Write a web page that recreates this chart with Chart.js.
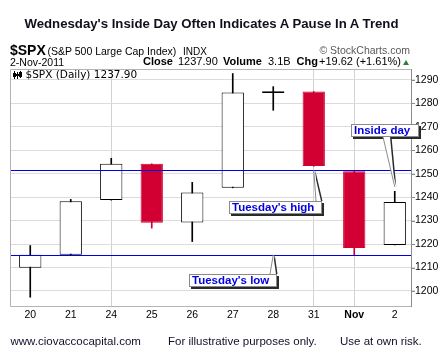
<!DOCTYPE html>
<html><head><meta charset="utf-8">
<script src="https://cdn.jsdelivr.net/npm/chart.js@4/dist/chart.umd.min.js"></script>
<style>
body{margin:0;background:#fff;}
#wrap{position:relative;width:447px;height:364px;overflow:hidden;font-family:Arial,"Liberation Sans",sans-serif;color:#000;}
#c{position:absolute;left:0;top:0;}
.t{position:absolute;white-space:nowrap;line-height:1;}
.b{font-weight:bold;}
</style></head><body>
<div id="wrap">
<canvas id="c" width="447" height="364"></canvas>
<div class="t b" style="left:0;width:423px;text-align:center;top:16.6px;font-size:13.2px;color:#10101c">Wednesday's Inside Day Often Indicates A Pause In A Trend</div>
<div class="t b" style="left:10px;top:43.1px;font-size:14px">$SPX</div>
<div class="t" style="left:47.5px;top:46.1px;font-size:10.5px">(S&amp;P 500 Large Cap Index)</div>
<div class="t" style="left:183px;top:46.5px;font-size:10px">INDX</div>
<div class="t" style="right:37px;top:45.1px;font-size:10.5px;color:#5a5a5a">© StockCharts.com</div>
<div class="t" style="left:10px;top:56.8px;font-size:10.5px">2-Nov-2011</div>
<div class="t b" style="left:143px;top:56.4px;font-size:11px">Close</div>
<div class="t" style="left:178px;top:56.4px;font-size:11px">1237.90</div>
<div class="t b" style="left:223px;top:56.4px;font-size:11px">Volume</div>
<div class="t" style="left:268px;top:56.4px;font-size:11px">3.1B</div>
<div class="t b" style="left:296.5px;top:56.4px;font-size:11px">Chg</div>
<div class="t" style="left:319px;top:56.4px;font-size:11px">+19.62 (+1.61%)</div>
<div style="position:absolute;left:403px;top:60px;width:0;height:0;border-left:3px solid transparent;border-right:3px solid transparent;border-bottom:5px solid #2f7f2f"></div>
<div class="t" style="left:10.5px;top:336.3px;font-size:11.5px;color:#10102a">www.ciovaccocapital.com</div>
<div class="t" style="left:168px;top:336.3px;font-size:11.5px;color:#10102a">For illustrative purposes only.</div>
<div class="t" style="left:340px;top:336.3px;font-size:11.5px;color:#10102a">Use at own risk.</div>
</div>
<script>
// ---- data ----
const categories = ['20','21','24','25','26','27','28','31','Nov','2'];
const opens  = [1209.92,1215.39,1238.72,1254.19,1229.17,1243.97,1284.39,1284.96,1251.00,1219.62];
const highs  = [1219.36,1239.03,1256.55,1254.19,1246.28,1292.66,1287.08,1284.96,1251.00,1242.48];
const lows   = [1197.34,1215.39,1238.72,1226.79,1221.06,1243.97,1277.01,1253.16,1215.42,1219.62];
const closes = [1215.39,1238.25,1254.19,1229.05,1242.00,1284.59,1285.09,1253.30,1218.28,1237.90];
const priorClose = 1209.88;
const yTicks = [1200,1210,1220,1230,1240,1250,1260,1270,1280,1290];
const gridCats = ['24','31','Nov'];
const boldCats = ['Nov'];
const refLevels = [1251.4, 1215.4];
const noteTexts = ["Tuesday's high", "Tuesday's low", "Inside day"];
const noteCats = ['31','28','2'];
const noteValues = [1251.4, 1215.4, 1244.4];

// ---- styles / layout ----
const RED = '#d20032', INK = '#000';
const noteLayout = [
  {dx:-84.5, dy:30.3, w:93, h:13, t0:87, t1:92},
  {dx:-84.3, dy:19.5, w:88, h:13, t0:81, t1:87},
  {dx:-43.8, dy:-62.8, w:68, h:13, t0:32, t1:39}
];
const AXIS_INSET = 4;

const isRed = closes.map((c,i)=> c < (i===0 ? priorClose : closes[i-1]));
const isFilled = closes.map((c,i)=> c < opens[i]);
const candleColor = isRed.map(r => r ? RED : INK);

const decor = {
  id:'decor',
  afterDatasetsDraw(chart){
    const {ctx, chartArea:a, scales:{y}} = chart;
    const axisX = Math.round(a.right - AXIS_INSET) + 0.5;
    ctx.save();
    ctx.strokeStyle = '#0000e6'; ctx.lineWidth = 1;
    refLevels.forEach(v=>{
      const py = Math.round(y.getPixelForValue(v)) + 0.5;
      ctx.beginPath(); ctx.moveTo(a.left, py); ctx.lineTo(axisX, py); ctx.stroke();
    });
    ctx.restore();
  },
  afterDraw(chart){
    const {ctx, chartArea:a, scales:{x,y}} = chart;
    const axisX = Math.round(a.right - AXIS_INSET) + 0.5;
    const L = Math.round(a.left) + 0.5, T = Math.round(a.top) + 0.5, B = Math.round(a.bottom) + 0.5;
    ctx.save();
    // frame
    ctx.lineWidth = 1; ctx.strokeStyle = '#b4b4b4';
    ctx.beginPath();
    ctx.moveTo(axisX, T); ctx.lineTo(L, T); ctx.lineTo(L, B); ctx.lineTo(axisX, B);
    ctx.stroke();
    ctx.strokeStyle = '#8c8c8c';
    ctx.beginPath(); ctx.moveTo(axisX, T-0.5); ctx.lineTo(axisX, B+0.5); ctx.stroke();
    // right tick marks
    yTicks.forEach(v=>{
      const py = Math.round(y.getPixelForValue(v)) + 0.5;
      ctx.beginPath(); ctx.moveTo(axisX, py); ctx.lineTo(a.right, py); ctx.stroke();
    });
    // inner label with icon
    ctx.fillStyle = '#000';
    ctx.font = '10.5px "DejaVu Sans", Verdana, sans-serif';
    ctx.textBaseline = 'middle'; ctx.textAlign = 'left';
    ctx.fillText('$SPX (Daily) 1237.90', 25.5, 75.5);
    ctx.strokeStyle = '#000'; ctx.lineWidth = 1;
    [[14.5,71,79,73,77],[17.5,72,79,74,76],[20.5,71,78,72,77]].forEach(([cx,t,b,bt,bb])=>{
      ctx.beginPath(); ctx.moveTo(cx,t); ctx.lineTo(cx,b); ctx.stroke();
      ctx.fillRect(cx-1.5,bt,3,bb-bt);
    });
    // callouts
    noteTexts.forEach((text,i)=>{
      const ax = x.getPixelForValue(categories.indexOf(noteCats[i]));
      const ay = y.getPixelForValue(noteValues[i]);
      const s = noteLayout[i];
      const bx = Math.round(ax + s.dx), by = Math.round(ay + s.dy);
      const baseY = s.dy > 0 ? by : by + s.h;
      const t0 = bx + s.t0, t1 = bx + s.t1;
      ctx.fillStyle = '#2a2a2a';
      ctx.fillRect(bx + 2, by + 2, s.w, s.h);
      ctx.beginPath(); ctx.moveTo(ax + 1.5, ay); ctx.lineTo(t0 + 1.5, baseY); ctx.lineTo(t1 + 1.5, baseY); ctx.closePath(); ctx.fill();
      ctx.fillStyle = '#fff';
      ctx.fillRect(bx, by, s.w, s.h);
      ctx.strokeStyle = '#8a8a8a'; ctx.lineWidth = 1;
      ctx.strokeRect(bx + 0.5, by + 0.5, s.w - 1, s.h - 1);
      ctx.beginPath(); ctx.moveTo(ax, ay); ctx.lineTo(t0, baseY); ctx.lineTo(t1, baseY); ctx.closePath();
      ctx.fillStyle = '#fff'; ctx.fill();
      ctx.beginPath(); ctx.moveTo(ax, ay); ctx.lineTo(t0, baseY); ctx.stroke();
      ctx.fillStyle = '#0000e0';
      ctx.font = 'bold 11.5px Arial, "Liberation Sans", sans-serif';
      ctx.textBaseline = 'middle';
      ctx.fillText(text, bx + 3, by + s.h/2 + 0.5);
    });
    ctx.restore();
  }
};

new Chart(document.getElementById('c'), {
  type:'bar',
  data:{
    labels: categories,
    datasets:[
      {
        label:'body',
        data: opens.map((o,i)=>[o, closes[i]]),
        backgroundColor: isFilled.map((f,i)=> f ? candleColor[i] : '#ffffff'),
        borderColor: candleColor,
        borderWidth: 1,
        borderSkipped: false,
        grouped: false,
        barPercentage: 0.55,
        categoryPercentage: 1,
        order: 0
      },
      {
        label:'wick',
        data: lows.map((l,i)=>[l, highs[i]]),
        backgroundColor: candleColor,
        borderWidth: 0,
        grouped: false,
        barThickness: 1,
        order: 1
      }
    ]
  },
  options:{
    responsive:false,
    animation:false,
    events:[],
    layout:{padding:{left:10, top:69, right:0, bottom:0}},
    plugins:{legend:{display:false}, title:{display:false}, tooltip:{enabled:false}},
    scales:{
      x:{
        offset:true,
        grid:{offset:false, drawTicks:false, color:(c)=> gridCats.includes(categories[c.index]) ? '#d2d2d2' : 'rgba(0,0,0,0)'},
        border:{display:false},
        ticks:{autoSkip:false, maxRotation:0, padding:3, color:'#000',
          font:(c)=>({family:'Arial, "Liberation Sans", sans-serif', size:10.5, weight: (c.tick && boldCats.includes(c.tick.label)) ? 'bold' : 'normal'})},
        afterFit:(s)=>{ s.height = 58; }
      },
      y:{
        position:'right',
        min:1193.6, max:1294.6,
        afterBuildTicks:(s)=>{ s.ticks = yTicks.map(v=>({value:v})); },
        grid:{color:'#dcdcdc', drawTicks:false},
        border:{display:false},
        ticks:{padding:0, color:'#000', font:{family:'Arial, "Liberation Sans", sans-serif', size:10.5}, callback:(v)=>String(v)},
        afterFit:(s)=>{ s.width = 32; }
      }
    }
  },
  plugins:[decor]
});
</script>
</body></html>
